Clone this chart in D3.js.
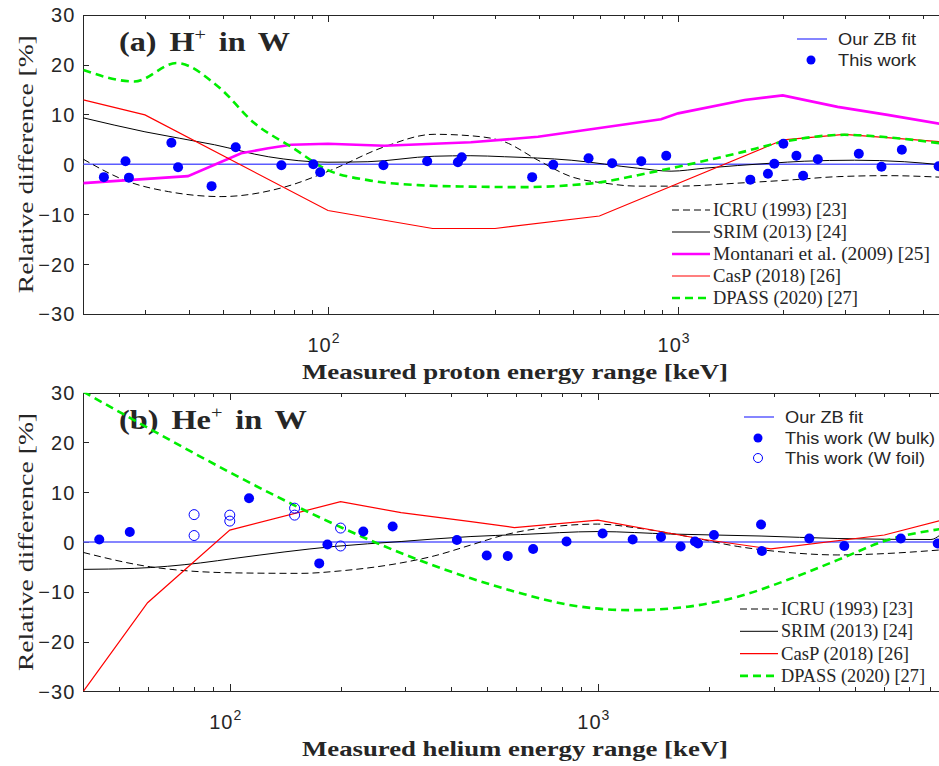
<!DOCTYPE html>
<meta charset="utf-8">
<style>
body { margin: 0; background: #fff; }
svg text { fill: #262626; }
.axis path, .axis line { stroke: #262626; shape-rendering: crispEdges; }
.ticklab { font: 20px "Liberation Sans", Arial, sans-serif; letter-spacing: 1px; }
.serif { font-family: "Liberation Serif", "DejaVu Serif", serif; }
.sans { font-family: "Liberation Sans", Arial, sans-serif; }
</style>
<body>
<script src="https://d3js.org/d3.v7.min.js"></script>
<script>
// ---------- (a) H+ in W ----------
var aDotE = [22.9, 26.4, 27.0, 35.7, 37.3, 46.5, 54.5, 73.6, 90.8, 95, 144, 192, 235, 241, 383, 440, 555, 648, 785, 925, 1608, 1806, 1883, 1999, 2178, 2276, 2507, 3283, 3811, 4357, 5550];
var aDotV = [-2.6, 0.6, -2.7, 4.3, -0.6, -4.4, 3.4, -0.2, 0, -1.6, -0.2, 0.6, 0.4, 1.4, -2.6, -0.1, 1.2, 0.2, 0.6, 1.7, -3.1, -1.9, 0.1, 4.1, 1.7, -2.3, 1.0, 2.1, -0.5, 2.9, -0.4];

var aIcruE = [20, 26.9, 35, 49.5, 75, 102, 145, 201, 256, 319, 398, 495, 617, 767, 1000, 1480, 2056, 2856, 3966, 5600];
var aIcruV = [1.0, -3.5, -5.5, -6.5, -4.6, -1.2, 3.5, 6.0, 5.7, 4.5, 0.8, -2.5, -3.8, -4.4, -4.4, -3.8, -3.2, -2.5, -2.3, -2.6];

var aSrimE = [20, 30, 47.4, 67.5, 100, 130, 201, 256, 319, 495, 767, 955, 1189, 1843, 2292, 3192, 4426, 5600];
var aSrimV = [9.3, 6.5, 3.9, 1.5, 0.4, 0.5, 1.6, 1.7, 1.5, 0.8, -0.8, -1.4, -0.8, 0.2, 0.6, 0.8, 0.5, -0.1];

var aMontE = [20, 39.8, 48.5, 56.5, 67.5, 78.5, 100, 145, 256, 398, 590, 894, 1000, 1549, 1991, 2856, 3966, 5600];
var aMontV = [-3.8, -2.4, 0.2, 2.2, 3.2, 3.9, 4.1, 3.7, 4.4, 5.5, 7.2, 9.0, 10.2, 12.9, 13.8, 11.5, 9.9, 8.1];

var aCaspE = [20, 30, 100, 199, 300, 596, 2000, 2985, 5600];
var aCaspV = [12.9, 9.9, -9.3, -12.9, -12.9, -10.4, 4.9, 6.0, 4.5];

var aDpassE = [20, 28, 36.9, 48.5, 61.7, 78.5, 100, 130, 181, 256, 356, 495, 617, 767, 1000, 1480, 2000, 2985, 3966, 5600];
var aDpassV = [18.9, 16.6, 20.3, 15.6, 8.2, 3.5, -1.2, -3.2, -4.2, -4.5, -4.6, -4.2, -3.5, -2.2, -0.5, 2.2, 4.5, 5.9, 5.4, 4.2];

// ---------- (b) He+ in W ----------
var bBulkE = [44.2, 53.5, 112.8, 175, 184.2, 230.5, 277, 414, 499, 569, 667, 822, 1030, 1243, 1484, 1678, 1835, 1871, 2067, 2775, 2790, 3752, 4670, 6650, 8380];
var bBulkV = [0.5, 2.0, 8.8, -4.3, -0.5, 2.1, 3.1, 0.4, -2.7, -2.8, -1.4, 0.1, 1.7, 0.5, 1.0, -0.9, 0.1, -0.3, 1.4, 3.5, -1.8, 0.7, -0.8, 0.7, -0.3];
var bFoilE = [80, 80, 100, 100, 150, 150, 200, 200];
var bFoilV = [5.5, 1.3, 5.4, 4.2, 6.8, 5.4, 2.8, -0.8];

var bIcruE = [40, 61, 102.7, 156, 200, 292, 359, 452, 556, 760, 998, 1282, 1753, 2400, 3280, 4488, 6128, 8500];
var bIcruV = [-2.1, -5.0, -6.2, -6.3, -5.8, -4.2, -2.8, -0.6, 1.4, 3.1, 3.6, 2.8, 1.1, -0.9, -2.1, -2.6, -2.3, -1.6];

var bSrimE = [40, 55, 83.4, 102.7, 192, 292, 452, 617, 1000, 1578, 2775, 4488, 8030, 8500];
var bSrimV = [-5.5, -5.3, -4.2, -3.3, -0.9, 0.1, 1.1, 1.5, 2.1, 1.6, 1.2, 0.7, 0.5, 1.4];

var bCaspE = [40, 59.8, 100, 200, 292, 452, 593, 1000, 1945, 2952, 6000, 8500];
var bCaspV = [-30, -12.2, 2.4, 8.1, 5.9, 4.1, 2.9, 4.4, 0.5, -1.4, 1.4, 4.3];

var bDpassE = [40, 452, 617, 845, 1231, 1753, 2400, 3280, 4488, 6128, 8500];
var bDpassV = [30.2, -7.3, -10.3, -12.7, -13.7, -13.0, -11.0, -7.6, -3.6, 0.4, 2.6];

var yTicks = [-30, -20, -10, 0, 10, 20, 30];

var width = 939, height = 766;
var svg = d3.select('body').append('svg')
    .attr('width', width).attr('height', height);

function zip(e, v) { return e.map(function(d, i) { return [d, v[i]]; }); }

var blue = '#0000ff', fitBlue = '#5c5cff';

function panel(cfg) {
    var x = d3.scaleLog().domain(cfg.xDom).range([83.3, 940]);
    var y = d3.scaleLinear().domain([-30, 30]).range([cfg.bottom, cfg.top]);
    var g = svg.append('g');

    g.append('clipPath').attr('id', 'clip' + cfg.id)
      .append('rect').attr('x', 83.3).attr('y', cfg.top)
      .attr('width', 940 - 83.3).attr('height', cfg.bottom - cfg.top);

    var decades = [100, 1000];
    var minors = [];
    [10, 100, 1000].forEach(function(b) {
        for (var k = 2; k <= 9; k++) {
            var v = b * k;
            if (v > cfg.xDom[0] && v < cfg.xDom[1]) minors.push(v);
        }
    });

    // x axes (bottom & top), ticks pointing inside
    g.append('g').attr('class', 'axis').attr('transform', 'translate(0,' + cfg.bottom + ')')
      .call(d3.axisBottom(x).tickValues(decades).tickSizeInner(-7).tickSizeOuter(0).tickFormat(''));
    g.append('g').attr('class', 'axis').attr('transform', 'translate(0,' + cfg.bottom + ')')
      .call(d3.axisBottom(x).tickValues(minors).tickSizeInner(-4).tickSizeOuter(0).tickFormat(''));
    g.append('g').attr('class', 'axis').attr('transform', 'translate(0,' + cfg.top + ')')
      .call(d3.axisTop(x).tickValues(decades).tickSizeInner(-7).tickSizeOuter(0).tickFormat(''));
    g.append('g').attr('class', 'axis').attr('transform', 'translate(0,' + cfg.top + ')')
      .call(d3.axisTop(x).tickValues(minors).tickSizeInner(-4).tickSizeOuter(0).tickFormat(''));

    var ya = g.append('g').attr('class', 'axis').attr('transform', 'translate(83.3,0)')
      .call(d3.axisLeft(y).tickValues(yTicks).tickSizeInner(-6).tickSizeOuter(0).tickPadding(8));
    ya.selectAll('text').attr('class', 'ticklab').attr('dy', '0.36em');

    // decade labels 10^n
    decades.forEach(function(v) {
        var t = g.append('text').attr('class', 'ticklab')
          .attr('x', x(v) - 4).attr('y', cfg.bottom + 38).attr('text-anchor', 'middle');
        t.append('tspan').text('10');
        t.append('tspan').attr('dy', -9).style('font-size', '14px').text(Math.round(Math.log10(v)));
    });

    // axis titles
    g.append('text').attr('class', 'serif')
      .attr('x', 302).attr('y', cfg.bottom + 65)
      .attr('textLength', 426).attr('lengthAdjust', 'spacingAndGlyphs')
      .style('font-size', '21px').style('font-weight', 'bold')
      .text(cfg.xLabel);
    g.append('text').attr('class', 'serif')
      .attr('transform', 'translate(33,' + ((cfg.top + cfg.bottom) / 2 + 129) + ') rotate(-90)')
      .attr('textLength', 258).attr('lengthAdjust', 'spacingAndGlyphs')
      .style('font-size', '21px')
      .text('Relative difference [%]');

    // panel title
    var tt = g.append('text').attr('class', 'serif')
      .attr('x', 119).attr('y', cfg.top + cfg.titleDy)
      .attr('textLength', cfg.titleLen).attr('lengthAdjust', 'spacingAndGlyphs')
      .style('font-size', '27px').style('font-weight', 'bold').style('word-spacing', '4px');
    tt.append('tspan').text(cfg.title[0]);
    tt.append('tspan').attr('dy', -11).style('font-size', '17px').style('font-weight', 'normal').text('+');
    tt.append('tspan').attr('dy', 11).text(' ' + cfg.title[1]);

    var plot = g.append('g').attr('clip-path', 'url(#clip' + cfg.id + ')');
    var line = d3.line().x(function(d) { return x(d[0]); }).y(function(d) { return y(d[1]); });
    var smooth = d3.line().curve(d3.curveMonotoneX).x(function(d) { return x(d[0]); }).y(function(d) { return y(d[1]); });

    // ZB fit reference line
    plot.append('path').attr('d', line(zip(cfg.xDom, [0, 0])))
      .attr('fill', 'none').attr('stroke', fitBlue).attr('stroke-width', 1.5);

    cfg.series.forEach(function(s) {
        plot.append('path').attr('d', (s.smooth ? smooth : line)(zip(s.e, s.v)))
          .attr('fill', 'none').attr('stroke', s.color).attr('stroke-width', s.w)
          .attr('stroke-dasharray', s.dash || null);
    });

    cfg.dots.forEach(function(ds) {
        g.append('g').selectAll('circle').data(zip(ds.e, ds.v)).enter().append('circle')
          .attr('cx', function(d) { return x(d[0]); })
          .attr('cy', function(d) { return y(d[1]); })
          .attr('r', 5)
          .attr('fill', ds.open ? 'none' : blue)
          .attr('stroke', blue).attr('stroke-width', ds.open ? 1 : 0);
    });

    // upper legend (sans)
    var ul = cfg.upperLeg;
    g.append('line').attr('x1', ul.x).attr('x2', ul.x + 30).attr('y1', ul.y).attr('y2', ul.y)
      .attr('stroke', fitBlue).attr('stroke-width', 1.5);
    g.append('text').attr('class', 'sans').attr('x', ul.x + 41).attr('y', ul.y + 6)
      .attr('textLength', 78).attr('lengthAdjust', 'spacingAndGlyphs')
      .style('font-size', '17px').text('Our ZB fit');
    ul.items.forEach(function(it, i) {
        var yy = ul.y + 20 * (i + 1) + 1;
        g.append('circle').attr('cx', ul.x + 14).attr('cy', yy).attr('r', 4.5)
          .attr('fill', it.open ? 'none' : blue).attr('stroke', blue).attr('stroke-width', it.open ? 1 : 0);
        g.append('text').attr('class', 'sans').attr('x', ul.x + 41).attr('y', yy + 6)
          .attr('textLength', it.lw).attr('lengthAdjust', 'spacingAndGlyphs')
          .style('font-size', '17px').text(it.label);
    });

    // lower legend (serif)
    var ll = cfg.lowerLeg;
    cfg.series.forEach(function(s, i) {
        var yy = ll.y + i * ll.dy;
        g.append('line').attr('x1', ll.x).attr('x2', ll.x + 38).attr('y1', yy).attr('y2', yy)
          .attr('stroke', s.color).attr('stroke-width', s.w).attr('stroke-dasharray', s.dash || null);
        g.append('text').attr('class', 'serif').attr('x', ll.x + 41).attr('y', yy + 6)
          .attr('textLength', s.lw).attr('lengthAdjust', 'spacingAndGlyphs')
          .style('font-size', '19px').text(s.label);
    });
}

var icruStyle = { color: '#000', w: 1, dash: '7,4', smooth: true };
var srimStyle = { color: '#000', w: 1, smooth: true };
var caspStyle = { color: '#ff0000', w: 1.2 };
var dpassStyle = { color: '#00ee00', w: 2.6, dash: '8,5', smooth: true };

function S(style, label, e, v, lw) { return Object.assign({ label: label, e: e, v: v, lw: lw }, style); }

panel({
    id: 'a', top: 14.7, bottom: 313.7, xDom: [20, 5600], titleDy: 36, titleLen: 171,
    title: ['(a) H', 'in W'],
    xLabel: 'Measured proton energy range [keV]',
    series: [
        S(icruStyle, 'ICRU (1993) [23]', aIcruE, aIcruV, 134),
        S(srimStyle, 'SRIM (2013) [24]', aSrimE, aSrimV, 134),
        S({ color: '#ff00ff', w: 2.6 }, 'Montanari et al. (2009) [25]', aMontE, aMontV, 217),
        S(caspStyle, 'CasP (2018) [26]', aCaspE, aCaspV, 128),
        S(dpassStyle, 'DPASS (2020) [27]', aDpassE, aDpassV, 145)
    ],
    dots: [{ e: aDotE, v: aDotV }],
    upperLeg: { x: 797, y: 39, items: [{ label: 'This work', lw: 78 }] },
    lowerLeg: { x: 672, y: 210, dy: 22 }
});

panel({
    id: 'b', top: 392.7, bottom: 691.3, xDom: [40, 8500], titleDy: 36, titleLen: 188,
    title: ['(b) He', 'in W'],
    xLabel: 'Measured helium energy range [keV]',
    series: [
        S(icruStyle, 'ICRU (1993) [23]', bIcruE, bIcruV, 132),
        S(srimStyle, 'SRIM (2013) [24]', bSrimE, bSrimV, 132),
        S(caspStyle, 'CasP (2018) [26]', bCaspE, bCaspV, 128),
        S(dpassStyle, 'DPASS (2020) [27]', bDpassE, bDpassV, 144)
    ],
    dots: [{ e: bBulkE, v: bBulkV }, { e: bFoilE, v: bFoilV, open: true }],
    upperLeg: { x: 744, y: 417, items: [{ label: 'This work (W bulk)', lw: 150 }, { label: 'This work (W foil)', open: true, lw: 140 }] },
    lowerLeg: { x: 740, y: 609, dy: 22.3 }
});
</script>
</body>
